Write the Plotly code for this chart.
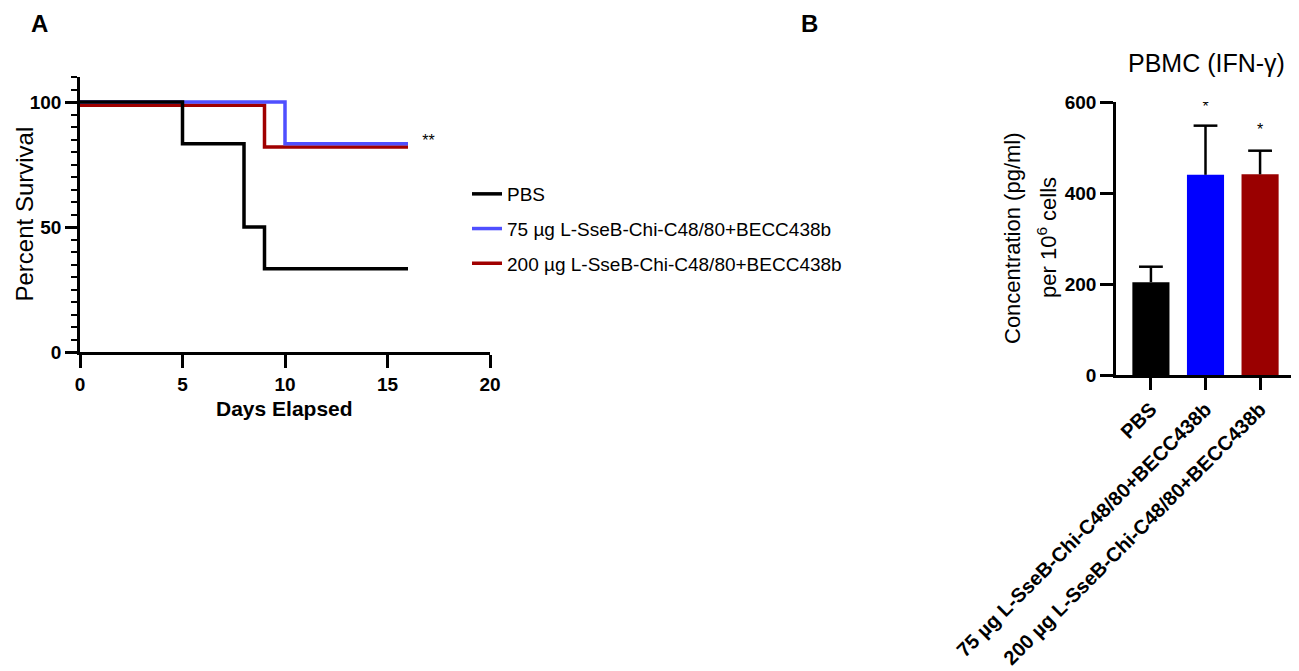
import plotly.graph_objects as go

# ---- Panel A: survival curves (Kaplan-Meier style steps) ----
days_pbs = [0, 5, 8, 9, 16]
surv_pbs = [100, 83.3, 50, 33.3, 33.3]
days_75 = [0, 10, 16]
surv_75 = [100, 83.3, 83.3]
days_200 = [0, 9, 16]
surv_200 = [98.7, 82, 82]

group_names = ["PBS",
               "75 µg L-SseB-Chi-C48/80+BECC438b",
               "200 µg L-SseB-Chi-C48/80+BECC438b"]

# ---- Panel B: IFN-gamma concentration ----
conc_mean = [204, 440, 441]
conc_sem = [34, 108, 52]
star_y = [None, 598, 549]
star_txt = ["", "*", "*"]

FONT = "Liberation Sans, Arial, sans-serif"
OFF = 8  # page body margin
W, H = 1299 - OFF, 671 - OFF
BLACK, BLUE_L, RED_L = "#000000", "#4f4fff", "#a00000"
BAR_COLORS = ["#000000", "#0000ff", "#9a0000"]


def px_x(p):
    return (p - OFF) / W


def px_y(p):
    return 1 - (p - OFF) / H


fig = go.Figure()

# draw red, blue, then black on top; legend ranks keep PBS first
fig.add_trace(go.Scatter(x=days_200, y=surv_200, mode="lines", line_shape="hv",
                         line=dict(color=RED_L, width=3.5), name=group_names[2],
                         legendrank=3, legendgroup="c", xaxis="x", yaxis="y"))
fig.add_trace(go.Scatter(x=days_75, y=surv_75, mode="lines", line_shape="hv",
                         line=dict(color=BLUE_L, width=3.5), name=group_names[1],
                         legendrank=2, legendgroup="b", xaxis="x", yaxis="y"))
fig.add_trace(go.Scatter(x=days_pbs, y=surv_pbs, mode="lines", line_shape="hv",
                         line=dict(color=BLACK, width=3.5), name=group_names[0],
                         legendrank=1, legendgroup="a", xaxis="x", yaxis="y"))

# significance mark for panel A
fig.add_trace(go.Scatter(x=[17], y=[84], mode="text", text=["**"],
                         textfont=dict(family=FONT, size=16, color="black"),
                         showlegend=False, xaxis="x", yaxis="y"))

# bars, upward-only SEM (stem without caps + a separate top cap)
tops = [m + s for m, s in zip(conc_mean, conc_sem)]
fig.add_trace(go.Bar(x=group_names, y=conc_mean, width=0.68,
                     marker=dict(color=BAR_COLORS, line=dict(width=0)),
                     error_y=dict(type="data", array=conc_sem, arrayminus=[0, 0, 0],
                                  symmetric=False, color="black", thickness=2.5, width=0),
                     showlegend=False, xaxis="x2", yaxis="y2"))
fig.add_trace(go.Scatter(x=group_names, y=tops, mode="markers",
                         marker=dict(symbol="line-ew", size=17,
                                     line=dict(color="black", width=2.5)),
                         showlegend=False, xaxis="x2", yaxis="y2"))
star_idx = [i for i, v in enumerate(star_y) if v is not None]
fig.add_trace(go.Scatter(x=[group_names[i] for i in star_idx],
                         y=[star_y[i] - 12 for i in star_idx],
                         mode="text", text=[star_txt[i] for i in star_idx],
                         textfont=dict(family=FONT, size=16, color="black"),
                         showlegend=False, xaxis="x2", yaxis="y2"))

axis_common = dict(showline=True, linecolor="black", linewidth=2.5, ticks="outside",
                   tickwidth=2.5, tickcolor="black", showgrid=False, zeroline=False,
                   automargin=False,
                   tickfont=dict(family=FONT, size=19, color="black", weight="bold"))

fig.update_layout(
    width=W, height=H,
    margin=dict(l=0, r=0, t=0, b=0),
    paper_bgcolor="white", plot_bgcolor="white",
    font=dict(family=FONT, color="black"),
    xaxis=dict(domain=[px_x(80), px_x(490)], range=[0, 20], dtick=5, ticklen=13,
               anchor="y", **axis_common),
    yaxis=dict(domain=[px_y(352), px_y(77)], range=[0, 110], tickvals=[0, 50, 100],
               ticklen=12, anchor="x",
               minor=dict(dtick=5, ticks="outside", ticklen=6, tickwidth=2,
                          tickcolor="black"),
               **axis_common),
    xaxis2=dict(domain=[px_x(1116), px_x(1295)], range=[-0.64, 2.64], ticklen=12,
                tickangle=-45, anchor="y2", type="category", **axis_common),
    yaxis2=dict(domain=[px_y(375), px_y(102)], range=[0, 600], dtick=200, ticklen=13,
                anchor="x2", **axis_common),
    legend=dict(x=px_x(467), y=px_y(175), xanchor="left", yanchor="top",
                font=dict(family=FONT, size=19, color="black"),
                tracegroupgap=7, bgcolor="rgba(0,0,0,0)"),
    showlegend=True,
)

fig.update_xaxes(tickfont=dict(size=20), selector=dict(anchor="y2"))

annots = [
    dict(text="<b>A</b>", x=px_x(39), y=1, size=24, angle=0, xa="center", ya="top"),
    dict(text="<b>B</b>", x=px_x(809), y=1, size=24, angle=0, xa="center", ya="top"),
    dict(text="<b>Days Elapsed</b>", x=px_x(284), y=px_y(408), size=21, angle=0,
         xa="center", ya="middle"),
    dict(text="Percent Survival", x=0, y=px_y(214), size=24, angle=-90,
         xa="left", ya="middle"),
    dict(text="PBMC (IFN-γ)", x=px_x(1206), y=px_y(63), size=25, angle=0,
         xa="center", ya="middle"),
    dict(text="Concentration (pg/ml)", x=px_x(1012), y=px_y(238), size=22,
         angle=-90, xa="center", ya="middle"),
    dict(text="per 10<sup>6</sup> cells", x=px_x(1047), y=px_y(238), size=22,
         angle=-90, xa="center", ya="middle"),
]
for a in annots:
    fig.add_annotation(text=a["text"], x=a["x"], y=a["y"], xref="paper", yref="paper",
                       xanchor=a["xa"], yanchor=a["ya"], showarrow=False,
                       textangle=a["angle"],
                       font=dict(family=FONT, size=a["size"], color="black"))

fig.write_html("out.html")
